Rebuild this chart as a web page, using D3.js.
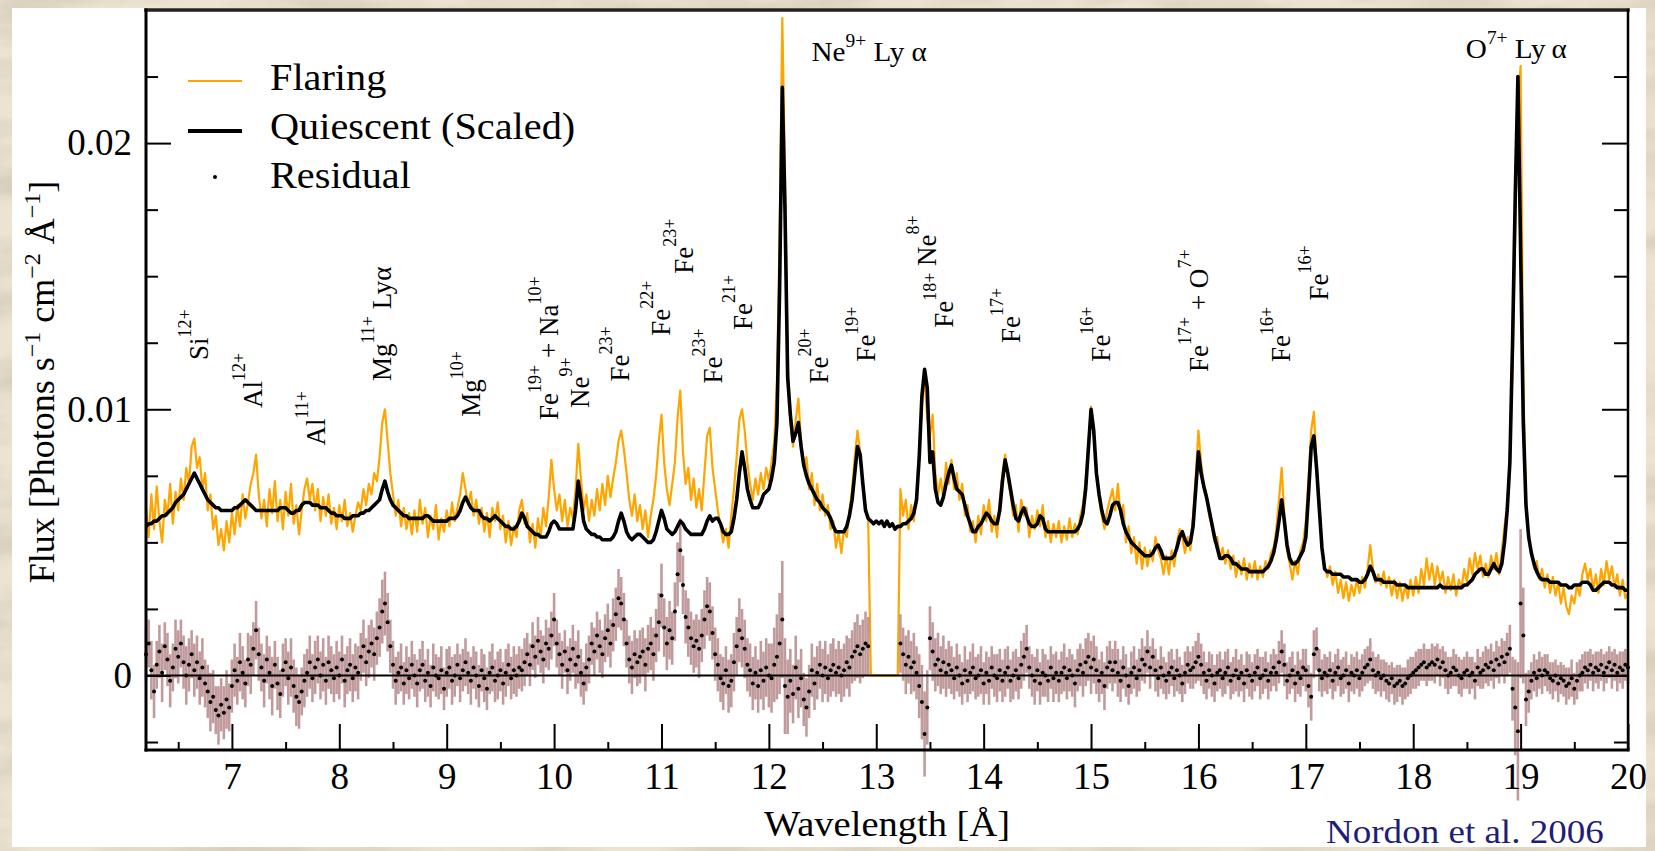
<!DOCTYPE html>
<html>
<head>
<meta charset="utf-8">
<script src="https://cdn.jsdelivr.net/npm/d3@7"></script>
<style>
  html, body { margin: 0; padding: 0; background: #e9dfcc; }
  svg { display: block; }
  svg text { font-family: 'Liberation Serif', 'DejaVu Serif', 'Times New Roman', Times, serif; white-space: pre; }
</style>
</head>
<body>
<script>
const width = 1655
const height = 851
const serif = "'Liberation Serif', 'DejaVu Serif', 'Times New Roman', Times, serif"

// wavelength grid 6.2 .. 20.0 A, 0.025 A per sample; fluxes in units of 1e-4
const waveStart = 6.2
const waveStep = 0.025
const fluxUnit = 1e-4

// one row = 0.5 A (20 samples), first row starts at 6.2 A
const flaring = [
  63, 52, 68, 55, 71, 58, 50, 66, 60, 72, 57, 69, 62, 74, 66, 78, 72, 86, 89, 78,
  82, 70, 76, 62, 68, 55, 60, 49, 55, 47, 58, 50, 61, 53, 64, 56, 68, 59, 65, 72,
  76, 83, 68, 59, 66, 56, 70, 61, 73, 58, 66, 55, 69, 60, 72, 57, 64, 53, 62, 70,
  74, 66, 72, 62, 70, 58, 67, 60, 68, 57, 63, 55, 64, 58, 66, 56, 61, 54, 60, 65,
  62, 70, 64, 72, 68, 76, 73, 82, 95, 100, 88, 76, 68, 60, 66, 56, 63, 55, 61, 53,
  62, 54, 66, 57, 63, 52, 60, 55, 64, 51, 59, 54, 62, 56, 65, 58, 63, 68, 76, 70,
  64, 69, 60, 66, 57, 63, 54, 61, 52, 63, 58, 65, 55, 60, 50, 58, 49, 56, 52, 62,
  66, 57, 61, 50, 57, 48, 59, 52, 63, 56, 67, 81, 70, 62, 68, 58, 66, 56, 63, 59,
  70, 87, 74, 62, 68, 58, 66, 60, 70, 62, 72, 64, 75, 67, 74, 80, 88, 92, 85, 76,
  66, 60, 68, 58, 64, 55, 62, 52, 60, 66, 75, 88, 98, 80, 70, 64, 72, 80, 97, 107,
  84, 72, 78, 66, 74, 63, 70, 62, 76, 90, 93, 78, 70, 62, 56, 50, 55, 48, 60, 70,
  82, 96, 100, 92, 80, 72, 66, 74, 68, 76, 70, 78, 73, 80, 88, 110, 165, 247, 190, 118,
  95, 86, 96, 104, 88, 78, 82, 70, 76, 64, 72, 62, 68, 60, 64, 55, 58, 48, 54, 46,
  55, 52, 62, 70, 82, 92, 84, 72, 64, 58, 0, 0, 0, 0, 0, 0, 0, 0, 0, 0,
  0, 70, 60, 66, 55, 64, 58, 68, 84, 102, 112, 96, 90, 98, 76, 68, 74, 66, 80, 72,
  81, 70, 76, 66, 72, 60, 64, 54, 58, 50, 60, 53, 64, 58, 66, 54, 60, 52, 66, 76,
  83, 74, 68, 60, 64, 54, 66, 60, 63, 52, 60, 55, 62, 56, 64, 52, 58, 50, 57, 52,
  58, 50, 56, 51, 59, 52, 57, 53, 60, 64, 74, 88, 101, 90, 78, 66, 60, 55, 62, 66,
  70, 62, 72, 60, 64, 50, 56, 46, 52, 42, 50, 40, 48, 41, 47, 43, 52, 47, 44, 38,
  45, 38, 47, 41, 50, 55, 52, 46, 52, 47, 60, 75, 92, 80, 72, 68, 60, 56, 50, 52,
  44, 48, 42, 47, 40, 45, 37, 43, 38, 44, 36, 42, 37, 43, 36, 41, 37, 43, 40, 46,
  48, 55, 66, 78, 60, 47, 42, 36, 43, 38, 47, 50, 58, 74, 92, 99, 80, 64, 48, 41,
  37, 41, 34, 39, 31, 36, 29, 35, 28, 34, 30, 36, 31, 37, 33, 40, 49, 40, 35, 38,
  34, 39, 33, 37, 30, 36, 29, 35, 28, 34, 29, 36, 30, 37, 31, 40, 34, 44, 36, 42,
  34, 41, 35, 39, 31, 37, 32, 38, 30, 36, 33, 40, 35, 44, 38, 46, 40, 45, 37, 42,
  37, 45, 40, 46, 38, 47, 56, 64, 82, 115, 165, 215, 229, 110, 66, 52, 47, 40, 43, 36,
  40, 33, 38, 31, 37, 30, 35, 27, 33, 26, 23, 30, 27, 34, 30, 38, 42, 36, 40, 32,
  38, 31, 40, 34, 43, 36, 41, 33, 38, 30, 36, 29, 31
]

const quiescent = [
  56, 57, 57, 58, 58, 59, 60, 60, 61, 62, 63, 65, 66, 67, 68, 70, 72, 74, 76, 74,
  72, 70, 68, 66, 65, 64, 63, 63, 62, 62, 62, 62, 62, 63, 63, 64, 65, 66, 65, 64,
  63, 62, 62, 62, 62, 62, 62, 62, 62, 62, 63, 63, 63, 62, 61, 61, 62, 62, 64, 65,
  65, 65, 64, 64, 64, 63, 63, 63, 62, 61, 61, 60, 60, 60, 59, 59, 59, 60, 60, 60,
  61, 61, 62, 62, 63, 64, 65, 66, 70, 73, 69, 66, 64, 63, 62, 61, 60, 60, 59, 59,
  59, 59, 59, 59, 60, 60, 59, 58, 58, 58, 58, 58, 58, 59, 59, 59, 60, 62, 65, 67,
  65, 63, 62, 62, 62, 60, 59, 59, 58, 59, 60, 59, 58, 57, 56, 56, 55, 55, 56, 58,
  61, 59, 56, 55, 54, 53, 53, 52, 52, 52, 54, 57, 58, 57, 55, 55, 55, 55, 55, 55,
  62, 73, 66, 58, 55, 54, 53, 53, 52, 52, 51, 51, 51, 51, 52, 54, 58, 61, 58, 54,
  52, 51, 52, 53, 53, 52, 51, 50, 50, 51, 54, 58, 62, 59, 55, 54, 53, 54, 56, 58,
  57, 55, 54, 53, 53, 53, 53, 53, 55, 58, 60, 58, 59, 59, 57, 54, 53, 53, 54, 59,
  66, 76, 84, 78, 70, 66, 63, 63, 63, 65, 68, 69, 70, 74, 80, 95, 145, 221, 175, 112,
  98, 88, 91, 95, 86, 79, 75, 72, 70, 68, 66, 65, 63, 62, 61, 59, 56, 54, 54, 54,
  54, 56, 60, 66, 76, 86, 83, 72, 62, 59, 58, 57, 58, 57, 58, 56, 58, 56, 57, 55,
  56, 56, 57, 57, 58, 59, 61, 66, 82, 105, 115, 108, 80, 84, 70, 65, 64, 67, 72, 76,
  79, 74, 70, 69, 68, 64, 60, 57, 54, 54, 56, 57, 59, 61, 60, 58, 57, 57, 62, 73,
  81, 76, 70, 64, 59, 58, 61, 63, 60, 57, 56, 56, 57, 60, 59, 55, 54, 54, 54, 54,
  54, 54, 54, 54, 54, 54, 54, 55, 57, 61, 70, 85, 100, 92, 76, 68, 62, 58, 57, 60,
  64, 65, 65, 62, 57, 54, 52, 50, 49, 48, 47, 46, 45, 45, 45, 46, 48, 49, 47, 44,
  44, 44, 44, 45, 48, 52, 54, 51, 49, 50, 56, 70, 84, 76, 71, 67, 62, 57, 52, 48,
  44, 44, 45, 45, 44, 42, 42, 41, 40, 40, 40, 39, 39, 39, 39, 39, 39, 40, 41, 43,
  46, 51, 58, 66, 58, 49, 44, 42, 42, 43, 45, 47, 52, 68, 86, 90, 78, 63, 48, 40,
  39, 39, 38, 38, 38, 38, 37, 37, 37, 36, 36, 36, 35, 35, 36, 38, 41, 39, 36, 36,
  36, 35, 35, 35, 35, 35, 34, 34, 34, 34, 33, 33, 33, 33, 33, 33, 33, 33, 33, 33,
  33, 33, 34, 33, 33, 33, 33, 33, 33, 33, 33, 34, 34, 35, 36, 38, 39, 40, 40, 38,
  38, 40, 42, 40, 39, 42, 50, 62, 80, 125, 180, 225, 160, 95, 64, 52, 46, 42, 39, 37,
  36, 36, 36, 35, 35, 35, 35, 34, 34, 34, 33, 33, 34, 34, 34, 35, 35, 35, 34, 32,
  32, 33, 34, 35, 35, 35, 34, 34, 33, 33, 33, 32, 32
]

// flaring minus scaled quiescent; null where the flaring spectrum has no data
const residual = [
  8, 12, 2, -6, 4, 9, 1, 11, 6, -2, 3, 10, 7, 12, 5, 0, 4, 8, 2, 5,
  -1, 3, -3, -6, -10, -8, -13, -15, -11, -14, -9, -12, -4, 2, -2, 5, 1, -3, 6, 4,
  10, 17, 8, 3, -2, 6, 1, -4, 4, -3, -7, 2, 5, -1, 3, -4, -8, -10, -6, -2,
  1, 5, -1, 3, 6, 0, 4, -2, 5, 2, -1, 3, 0, 6, -2, 2, 4, -1, 3, 1,
  7, 11, 5, 9, 12, 8, 14, 18, 24, 27, 20, 11, 4, -2, 1, 3, -3, 2, -1, 4,
  0, -3, 2, 4, -2, 1, -4, 3, 0, -1, 2, -5, 1, 3, -2, 0, 4, -1, 2, 5,
  1, -2, 3, 0, -4, 2, -1, -5, 1, 3, -2, 0, 2, -3, 1, 4, -1, 2, 0, 3,
  2, 5, 8, 4, 11, 7, 13, 9, 6, 12, 10, 15, 21, 12, 8, 4, 9, 2, 6, 10,
  4, 7, 1, -3, 3, 6, 12, 9, 15, 11, 8, 14, 17, 12, 19, 23, 29, 27, 21, 12,
  6, 3, 8, 5, 7, 9, 4, 10, 12, 8, 15, 20, 30, 18, 12, 17, 14, 24, 38, 47,
  34, 22, 18, 14, 11, 13, 10, 15, 21, 26, 24, 16, 8, 4, -1, -3, 2, -4, -2, 5,
  11, 17, 14, 10, 4, 2, -3, 1, -4, 2, -2, 3, 0, -1, 4, 7, 12, 21, -4, -8,
  -2, -7, 3, -5, -1, -9, -12, -6, 2, -3, 1, 4, 0, 3, -1, 2, 4, 1, 3, 0,
  2, 5, 3, 7, 9, 11, 8, 10, 12, 11, null, null, null, null, null, null, null, null, null, null,
  null, 12, 8, 4, 7, 3, 5, 1, -4, -10, -22, -12, 14, 9, 4, 6, 2, 5, 1, 4,
  2, -1, 3, 0, -3, 2, -2, 1, 3, -1, 0, 2, -3, 1, -2, 3, 0, -1, 2, -2,
  1, 3, -2, 0, 2, -1, 4, 7, 10, 3, 0, -2, 2, -3, 1, 0, -2, 3, -1, 1,
  -2, 1, 3, -1, 2, 0, -3, 2, 4, 1, 5, 7, 3, 6, 2, -2, 1, -4, 3, 5,
  2, 5, 1, -2, 3, 0, -4, 1, 3, -1, 2, 6, 4, 9, 3, 7, 2, -1, 3, 0,
  -2, 1, 3, -1, 2, 0, -3, 1, 4, 2, 3, 5, 7, 4, 1, -2, 2, 0, -3, 1,
  2, -1, 1, 3, -2, 0, 2, -1, 1, -3, 2, 0, -2, 1, 3, -1, 0, 2, -2, 1,
  3, 1, 5, 9, 4, -2, 0, 2, -3, 1, -1, 3, 2, -4, -8, 8, 10, 2, -1, 1,
  0, 2, -2, 1, 3, -1, 0, 2, -3, 1, 0, 2, -1, 1, 3, 4, 6, 2, 0, 1,
  -1, 0, -2, -3, -1, -4, -3, -2, -4, -3, -1, 0, 1, 2, 3, 4, 5, 3, 4, 5,
  4, 6, 3, 5, 2, 0, 1, 3, 2, 0, -1, 1, 2, 0, 1, -2, 3, 1, 2, 4,
  3, 5, 2, 6, 4, 7, 5, 8, 10, -5, -12, -21, 27, 15, -9, -6, -2, 1, -1, 2,
  0, 2, 1, -1, -2, 0, -3, -1, -2, -4, -3, -1, -5, -2, 0, 1, 3, 2, 4, 1,
  3, 2, 4, 1, 3, 5, 2, 4, 1, 3, 2, 4, 3
]

const residualErr = [
  10, 9, 11, 10, 9, 10, 11, 9, 10, 10, 9, 11, 10, 9, 10, 11, 10, 9, 10, 10,
  10, 11, 9, 10, 11, 10, 9, 11, 10, 10, 11, 9, 10, 10, 9, 11, 10, 9, 10, 11,
  10, 11, 10, 9, 10, 9, 10, 11, 9, 10, 9, 10, 9, 10, 11, 10, 11, 10, 9, 10,
  9, 10, 9, 10, 9, 9, 10, 9, 10, 9, 9, 10, 9, 9, 10, 9, 10, 9, 9, 10,
  9, 10, 9, 10, 9, 10, 10, 11, 12, 12, 11, 10, 9, 9, 8, 9, 8, 9, 8, 9,
  8, 9, 8, 9, 8, 9, 8, 9, 8, 8, 9, 8, 9, 8, 9, 8, 8, 9, 8, 9,
  8, 9, 8, 9, 8, 8, 9, 8, 8, 9, 8, 9, 8, 8, 9, 8, 8, 9, 8, 8,
  8, 9, 8, 8, 9, 8, 9, 8, 9, 9, 8, 9, 10, 9, 8, 9, 8, 9, 8, 9,
  9, 10, 9, 8, 9, 9, 8, 9, 9, 10, 9, 9, 10, 9, 10, 10, 11, 10, 10, 9,
  9, 10, 9, 9, 10, 9, 10, 9, 10, 10, 10, 11, 12, 11, 10, 11, 10, 11, 12, 12,
  11, 10, 11, 10, 10, 10, 11, 10, 11, 11, 11, 10, 10, 10, 9, 10, 9, 10, 10, 11,
  11, 12, 11, 11, 10, 10, 10, 10, 10, 11, 11, 11, 12, 13, 14, 16, 19, 22, 18, 14,
  12, 11, 12, 11, 11, 10, 11, 10, 10, 10, 10, 9, 10, 10, 9, 10, 10, 9, 10, 10,
  10, 10, 11, 10, 11, 12, 11, 11, 12, 11, 0, 0, 0, 0, 0, 0, 0, 0, 0, 0,
  0, 11, 10, 11, 10, 10, 11, 10, 12, 14, 16, 14, 12, 11, 10, 10, 9, 10, 9, 9,
  9, 8, 9, 8, 8, 9, 8, 8, 9, 8, 8, 9, 8, 8, 9, 8, 8, 9, 8, 8,
  9, 8, 8, 9, 8, 8, 9, 9, 9, 8, 8, 9, 8, 8, 9, 8, 8, 8, 9, 8,
  8, 8, 9, 8, 8, 8, 9, 8, 8, 9, 9, 9, 10, 9, 9, 8, 8, 9, 8, 8,
  8, 8, 9, 8, 8, 8, 7, 8, 8, 7, 8, 8, 7, 8, 8, 7, 8, 7, 8, 7,
  7, 8, 7, 7, 8, 7, 7, 8, 7, 7, 8, 8, 9, 8, 8, 7, 7, 8, 7, 7,
  7, 7, 8, 7, 7, 7, 8, 7, 7, 7, 7, 8, 7, 7, 7, 8, 7, 7, 7, 7,
  7, 7, 8, 8, 8, 7, 7, 7, 7, 8, 7, 7, 8, 8, 9, 9, 8, 8, 7, 7,
  7, 7, 7, 7, 7, 7, 7, 7, 7, 7, 7, 7, 7, 7, 7, 7, 8, 7, 7, 7,
  7, 6, 7, 7, 6, 7, 7, 6, 7, 6, 7, 7, 6, 7, 7, 6, 7, 7, 6, 7,
  7, 6, 7, 6, 7, 7, 6, 7, 6, 7, 7, 6, 7, 7, 6, 7, 7, 6, 7, 7,
  7, 7, 7, 7, 7, 7, 8, 8, 9, 12, 18, 26, 28, 18, 10, 8, 7, 7, 7, 7,
  7, 6, 7, 6, 7, 6, 7, 6, 6, 7, 6, 7, 6, 7, 6, 7, 6, 7, 6, 7,
  6, 7, 6, 7, 6, 6, 7, 6, 7, 6, 7, 6, 6
]

const xMajorTicks = [7, 8, 9, 10, 11, 12, 13, 14, 15, 16, 17, 18, 19, 20]
const xMinorTicks = [6.5, 7.5, 8.5, 9.5, 10.5, 11.5, 12.5, 13.5, 14.5, 15.5, 16.5, 17.5, 18.5, 19.5]
const yMajorTicks = [0, 0.01, 0.02]
const yMinorTicks = [-0.0025, 0.0025, 0.005, 0.0075, 0.0125, 0.015, 0.0175, 0.0225]

const legendNames = ['Flaring', 'Quiescent (Scaled)', 'Residual']

// ion labels: wavelength / flux (1e-4) where the rotated text starts
// parts: [text, raise level, superscript?]
const lineLabels = [
  { w: 6.776, f: 118.5, parts: [['Si', 0], ['12+', 1, 1]] },
  { w: 7.279, f: 100.5, parts: [['Al', 0], ['12+', 1, 1]] },
  { w: 7.866, f: 86.4, parts: [['Al', 0], ['11+', 1, 1]] },
  { w: 8.48, f: 110.6, parts: [['Mg', 0], ['11+', 1, 1], [' Lyα', 0]] },
  { w: 9.31, f: 97.2, parts: [['Mg', 0], ['10+', 1, 1]] },
  { w: 10.035, f: 96, parts: [['Fe', 0], ['19+', 1, 1], [' + Na', 0], ['10+', 1, 1]] },
  { w: 10.324, f: 100.5, parts: [['Ne', 0], ['9+', 1, 1]] },
  { w: 10.696, f: 110.4, parts: [['Fe', 0], ['23+', 1, 1]] },
  { w: 11.078, f: 127.6, parts: [['Fe', 0], ['22+', 1, 1]] },
  { w: 11.292, f: 150.9, parts: [['Fe', 0], ['23+', 1, 1]] },
  { w: 11.562, f: 109.7, parts: [['Fe', 0], ['23+', 1, 1]] },
  { w: 11.841, f: 129.8, parts: [['Fe', 0], ['21+', 1, 1]] },
  { w: 12.549, f: 109.7, parts: [['Fe', 0], ['20+', 1, 1]] },
  { w: 12.987, f: 117.9, parts: [['Fe', 0], ['19+', 1, 1]] },
  { w: 13.713, f: 130.6, parts: [['Fe', 0], ['18+', 1, 1], [' Ne', 1], ['8+', 2, 1]] },
  { w: 14.337, f: 124.9, parts: [['Fe', 0], ['17+', 1, 1]] },
  { w: 15.175, f: 117.9, parts: [['Fe', 0], ['16+', 1, 1]] },
  { w: 16.089, f: 114, parts: [['Fe', 0], ['17+', 1, 1], [' + O', 0], ['7+', 1, 1]] },
  { w: 16.852, f: 117.8, parts: [['Fe', 0], ['16+', 1, 1]] },
  { w: 17.206, f: 140.9, parts: [['Fe', 0], ['16+', 1, 1]] }
]

const peakLabels = [
  { w: 12.397, f: 231, parts: [['Ne', 0], ['9+', 1, 1], [' Ly α', 0]] },
  { w: 18.49, f: 232, parts: [['O', 0], ['7+', 1, 1], [' Ly\u2009α', 0]] }
]

const spectrum = flaring.map(function (f, i) {
  return {
    w: waveStart + i * waveStep,
    f: f * fluxUnit,
    q: quiescent[i] * fluxUnit,
    r: residual[i] === null ? null : residual[i] * fluxUnit,
    e: residualErr[i] * fluxUnit
  }
})
const residualPoints = spectrum.filter(function (d) { return d.r !== null })

const svg = d3.select('body')
  .append('svg')
  .attr('width', width)
  .attr('height', height)
  .attr('font-family', serif)

// beige marble backdrop
const filter = svg.append('defs').append('filter')
  .attr('id', 'marble')
  .attr('x', 0).attr('y', 0).attr('width', '100%').attr('height', '100%')
filter.append('feTurbulence')
  .attr('type', 'fractalNoise')
  .attr('baseFrequency', '0.008 0.025')
  .attr('numOctaves', 4)
  .attr('seed', 11)
filter.append('feColorMatrix')
  .attr('type', 'matrix')
  .attr('values', '0 0 0 0 0.62  0 0 0 0 0.55  0 0 0 0 0.44  1.5 0 0 0 -0.55')
svg.append('rect').attr('width', width).attr('height', height).attr('fill', '#ece3d2')
svg.append('rect').attr('width', width).attr('height', height).attr('fill', '#000').attr('filter', 'url(#marble)')

svg.append('rect')
  .attr('x', 12).attr('y', 8)
  .attr('width', 1634).attr('height', 839)
  .attr('fill', '#fff')

const xScale = d3.scaleLinear().domain([6.2, 20]).range([146, 1628])
const yScale = d3.scaleLinear().domain([-0.0028, 0.025]).range([750, 10])

// flaring spectrum
svg.append('path')
  .datum(spectrum)
  .attr('fill', 'none')
  .attr('stroke', '#ffa500')
  .attr('stroke-width', 2.2)
  .attr('stroke-linejoin', 'round')
  .attr('d', d3.line().x(function (d) { return xScale(d.w) }).y(function (d) { return yScale(d.f) }))

// residual error bars
svg.append('g')
  .selectAll('line')
  .data(residualPoints)
  .join('line')
  .attr('x1', function (d) { return xScale(d.w) })
  .attr('x2', function (d) { return xScale(d.w) })
  .attr('y1', function (d) { return yScale(d.r - d.e) })
  .attr('y2', function (d) { return yScale(d.r + d.e) })
  .attr('stroke', '#bb9191')
  .attr('stroke-width', 2.6)
  .attr('opacity', 0.9)

svg.append('line')
  .attr('x1', xScale(6.2)).attr('x2', xScale(20))
  .attr('y1', yScale(0)).attr('y2', yScale(0))
  .attr('stroke', '#000')
  .attr('stroke-width', 2)

svg.append('g')
  .selectAll('circle')
  .data(residualPoints)
  .join('circle')
  .attr('cx', function (d) { return xScale(d.w) })
  .attr('cy', function (d) { return yScale(d.r) })
  .attr('r', 2)
  .attr('fill', '#000')

// scaled quiescent spectrum
svg.append('path')
  .datum(spectrum)
  .attr('fill', 'none')
  .attr('stroke', '#000')
  .attr('stroke-width', 3.6)
  .attr('stroke-linejoin', 'round')
  .attr('d', d3.line().x(function (d) { return xScale(d.w) }).y(function (d) { return yScale(d.q) }))

// axes, ticks pointing inwards
const styleAxis = function (g) {
  g.select('.domain').remove()
  g.attr('font-family', serif).attr('font-size', 37)
  g.selectAll('text').attr('font-family', serif)
  g.selectAll('line').attr('stroke-width', 2)
}

svg.append('g')
  .attr('transform', 'translate(0,750)')
  .call(d3.axisBottom(xScale).tickValues(xMajorTicks).tickFormat(d3.format('d'))
    .tickSizeInner(-26).tickSizeOuter(0).tickPadding(13))
  .call(styleAxis)
svg.append('g')
  .attr('transform', 'translate(0,750)')
  .call(d3.axisBottom(xScale).tickValues(xMinorTicks).tickFormat('')
    .tickSizeInner(-8).tickSizeOuter(0))
  .call(styleAxis)

svg.append('g')
  .attr('transform', 'translate(146,0)')
  .call(d3.axisLeft(yScale).tickValues(yMajorTicks).tickFormat(d3.format('~g'))
    .tickSizeInner(-25).tickSizeOuter(0).tickPadding(14))
  .call(styleAxis)
svg.append('g')
  .attr('transform', 'translate(146,0)')
  .call(d3.axisLeft(yScale).tickValues(yMinorTicks).tickFormat('')
    .tickSizeInner(-12).tickSizeOuter(0))
  .call(styleAxis)

svg.append('g')
  .attr('transform', 'translate(1628,0)')
  .call(d3.axisRight(yScale).tickValues(yMajorTicks).tickFormat('')
    .tickSizeInner(-26).tickSizeOuter(0))
  .call(styleAxis)
svg.append('g')
  .attr('transform', 'translate(1628,0)')
  .call(d3.axisRight(yScale).tickValues(yMinorTicks).tickFormat('')
    .tickSizeInner(-14).tickSizeOuter(0))
  .call(styleAxis)

// frame
const frame = svg.append('g').attr('stroke', '#000').attr('stroke-linecap', 'square')
frame.append('line').attr('x1', 146).attr('x2', 1628).attr('y1', 10).attr('y2', 10).attr('stroke-width', 3.5).attr('stroke', '#222')
frame.append('line').attr('x1', 146).attr('x2', 1628).attr('y1', 750).attr('y2', 750).attr('stroke-width', 3)
frame.append('line').attr('x1', 146).attr('x2', 146).attr('y1', 10).attr('y2', 750).attr('stroke-width', 3)
frame.append('line').attr('x1', 1628).attr('x2', 1628).attr('y1', 10).attr('y2', 750).attr('stroke-width', 2.5)

// text with raised parts (superscripts)
const addRich = function (g, parts, size, supSize, raise) {
  const t = g.append('text').attr('font-size', size).attr('font-family', serif).attr('fill', '#000')
  let level = 0
  parts.forEach(function (p) {
    t.append('tspan')
      .attr('dy', (level - p[1]) * raise)
      .attr('font-size', p[2] ? supSize : size)
      .text(p[0])
    level = p[1]
  })
  return t
}

lineLabels.forEach(function (lab) {
  const g = svg.append('g')
    .attr('transform', `translate(${xScale(lab.w)},${yScale(lab.f * fluxUnit)}) rotate(-90)`)
  addRich(g, lab.parts, 27, 18, 17)
})

peakLabels.forEach(function (lab) {
  const g = svg.append('g')
    .attr('transform', `translate(${xScale(lab.w)},${yScale(lab.f * fluxUnit)}) scale(1.08,1)`)
  addRich(g, lab.parts, 27, 18, 14)
})

// legend
const legend = svg.append('g')
legend.append('line').attr('x1', 188).attr('x2', 242).attr('y1', 81).attr('y2', 81)
  .attr('stroke', '#ffa500').attr('stroke-width', 2.2)
legend.append('line').attr('x1', 188).attr('x2', 242).attr('y1', 131).attr('y2', 131)
  .attr('stroke', '#000').attr('stroke-width', 4)
legend.append('circle').attr('cx', 215).attr('cy', 177).attr('r', 2).attr('fill', '#000')
legend.selectAll('text.name')
  .data(legendNames)
  .join('text')
  .attr('class', 'name')
  .attr('transform', function (d, i) { return `translate(270,${90 + i * 49}) scale(1.06,1)` })
  .attr('font-size', 38)
  .attr('font-family', serif)
  .text(function (d) { return d })

// axis titles
const yTitle = svg.append('g').attr('transform', 'translate(54,382) rotate(-90)')
addRich(yTitle, [['Flux [Photons s', 0], ['\u22121', 1, 1], [' cm', 0], ['\u22122', 1, 1], [' \u00c5', 0], ['\u22121', 1, 1], [']', 0]], 36, 24, 14)
  .attr('text-anchor', 'middle')

svg.append('text')
  .attr('transform', 'translate(887,836) scale(1.07,1)')
  .attr('text-anchor', 'middle')
  .attr('font-size', 36)
  .attr('font-family', serif)
  .text('Wavelength [\u00c5]')

svg.append('text')
  .attr('transform', 'translate(1326,843) scale(1.09,1)')
  .attr('font-size', 34)
  .attr('font-family', serif)
  .attr('fill', '#1e1e78')
  .text('Nordon et al. 2006')
</script>
</body>
</html>
